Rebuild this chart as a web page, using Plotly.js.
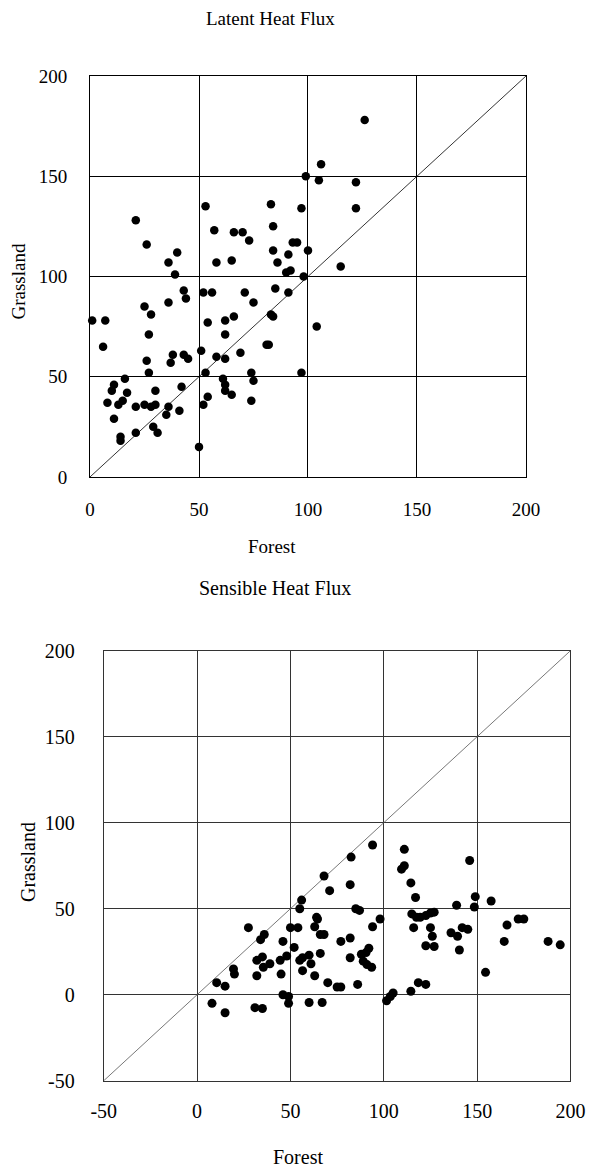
<!DOCTYPE html>
<html>
<head>
<meta charset="utf-8">
<script src="https://cdn.plot.ly/plotly-3.0.1.min.js"></script>
<style>html,body{margin:0;padding:0;background:#fff;}#chart{width:591px;height:1169px;}</style>
</head>
<body>
<div id="chart"></div>
<script>
// Latent Heat Flux (Forest vs Grassland)
const latentForest = [21,26,36,40,39,53,57,58,66,70,73,65,83,84,84,86,91,93,95,97,99,100,90,92,98,
  126,106,105,122,122,115,
  43,44,52,56,71,75,85,91,1,7,6,25,28,36,27,54,62,66,62,83,84,81,82,69,51,58,62,38,37,43,45,26,27,53,74,75,97,61,62,62,65,54,52,74,50,16,11,10,17,15,8,13,11,21,25,28,30,30,42,36,35,41,29,31,21,14,14,
  104];
const latentGrass = [128,116,107,112,101,135,123,107,122,122,118,108,136,125,113,107,111,117,117,134,150,113,102,103,100,
  178,156,148,147,134,105,
  93,89,92,92,92,87,94,92,78,78,65,85,81,87,71,77,78,80,71,81,80,66,66,62,63,60,59,61,57,61,59,58,52,52,52,48,52,49,46,43,41,40,36,38,15,49,46,43,42,38,37,36,29,35,36,35,36,43,45,35,31,33,25,22,22,20,18,
  75];

// Sensible Heat Flux (Forest vs Grassland)
const sensibleForest = [27.5,34,36,35,32,35.5,32,19.5,20,10.5,15,8,15,31,35,39,
  94,82.5,68,82,71,56,55,85,87,98,94,64,64.5,63,50,54,66,68,77,82,46,52,92,90.5,88,82,66,60,56.5,55,48,44.5,61,89,91,93.5,56.5,45,63,70,75,77,86,46,49,49,60,67,
  111,109.5,111,114.5,117,115,117.5,116,118.5,114.5,105,103.5,101.5,
  146,149,157.5,139,148.5,119.5,122.5,125,127,125,126,122.5,127,136,139.5,142,145,140.5,166,172,175,164.5,188,194.5,154.5,122.5];
const sensibleGrass = [39,32,35,22,20,16,11,15,12,7,5,-5,-10.5,-7.5,-8,18,
  87,80,69,64,60.5,55,50,50,49,44,39.5,45,44,39.5,39,39,35,35,31,33,31,27.5,27,24.5,23.5,21.5,24,23,21.5,20,22.5,20,18,19.5,17.5,16,14,12,11,7,4.5,4.5,6,0,-1,-5,-4.5,-4.5,
  84.5,73,75,65,56.5,47,45,39,7,2,1,-1,-3.5,
  78,57,54.5,52,51,45,46,47.5,48,39,34,28.5,28,36,34,39,38,26,40.5,44,44,31,31,29,13,6];

// Axis ranges (also used for the 1:1 reference lines) and tick labels
const topRange = [0, 200];
const bottomRange = [-50, 200];
const topTickVals = [0, 50, 100, 150, 200];
const topTickText = ['0', '50', '100', '150', '200'];
const bottomTickVals = [-50, 0, 50, 100, 150, 200];
const bottomTickText = ['-50', '0', '50', '100', '150', '200'];

const serif = 'Liberation Serif, Times New Roman, serif';

const traces = [
  {x: topRange, y: topRange, mode: 'lines', line: {color: '#000', width: 0.8}, xaxis: 'x', yaxis: 'y', hoverinfo: 'skip'},
  {x: latentForest, y: latentGrass, mode: 'markers', marker: {color: '#000', size: 8.5}, xaxis: 'x', yaxis: 'y', cliponaxis: false},
  {x: bottomRange, y: bottomRange, mode: 'lines', line: {color: '#555', width: 0.8}, xaxis: 'x2', yaxis: 'y2', hoverinfo: 'skip'},
  {x: sensibleForest, y: sensibleGrass, mode: 'markers', marker: {color: '#000', size: 9}, xaxis: 'x2', yaxis: 'y2', cliponaxis: false}
];

function ax(range, domain, anchor, color, fs, standoff, vals, text) {
  return {
    range: range, domain: domain, anchor: anchor,
    tickmode: 'array', tickvals: vals, ticktext: text,
    showgrid: true, gridcolor: color, gridwidth: 1,
    showline: true, mirror: true, linecolor: color, linewidth: 1,
    zeroline: false, ticks: '', ticklabelstandoff: standoff,
    tickfont: {family: serif, size: fs, color: '#000'},
    fixedrange: true
  };
}

const layout = {
  width: 591, height: 1169,
  margin: {l: 0, r: 0, t: 0, b: 0},
  paper_bgcolor: '#fff', plot_bgcolor: '#fff',
  showlegend: false,
  xaxis: ax(topRange, [0.1523, 0.8900], 'y', '#000', 19, 15, topTickVals, topTickText),
  yaxis: ax(topRange, [0.5920, 0.9350], 'x', '#000', 19, 18, topTickVals, topTickText),
  xaxis2: ax(bottomRange, [0.1755, 0.9653], 'y2', '#333', 20, 12, bottomTickVals, bottomTickText),
  yaxis2: ax(bottomRange, [0.0755, 0.4434], 'x2', '#333', 20, 24, bottomTickVals, bottomTickText),
  annotations: [
    {text: 'Latent Heat Flux', xref: 'paper', yref: 'paper', x: 0.4585, y: 0.9846, showarrow: false, xanchor: 'center', yanchor: 'middle', font: {family: serif, size: 19, color: '#000'}},
    {text: 'Forest', xref: 'paper', yref: 'paper', x: 0.4602, y: 0.5321, showarrow: false, xanchor: 'center', yanchor: 'middle', font: {family: serif, size: 19, color: '#000'}},
    {text: 'Grassland', xref: 'paper', yref: 'paper', x: 0.0313, y: 0.7596, showarrow: false, textangle: -90, xanchor: 'center', yanchor: 'middle', font: {family: serif, size: 19, color: '#000'}},
    {text: 'Sensible Heat Flux', xref: 'paper', yref: 'paper', x: 0.4653, y: 0.4970, showarrow: false, xanchor: 'center', yanchor: 'middle', font: {family: serif, size: 20, color: '#000'}},
    {text: 'Forest', xref: 'paper', yref: 'paper', x: 0.5042, y: 0.0103, showarrow: false, xanchor: 'center', yanchor: 'middle', font: {family: serif, size: 20, color: '#000'}},
    {text: 'Grassland', xref: 'paper', yref: 'paper', x: 0.0474, y: 0.2626, showarrow: false, textangle: -90, xanchor: 'center', yanchor: 'middle', font: {family: serif, size: 20, color: '#000'}}
  ]
};

Plotly.newPlot('chart', traces, layout, {staticPlot: true, displayModeBar: false});
</script>
</body>
</html>
